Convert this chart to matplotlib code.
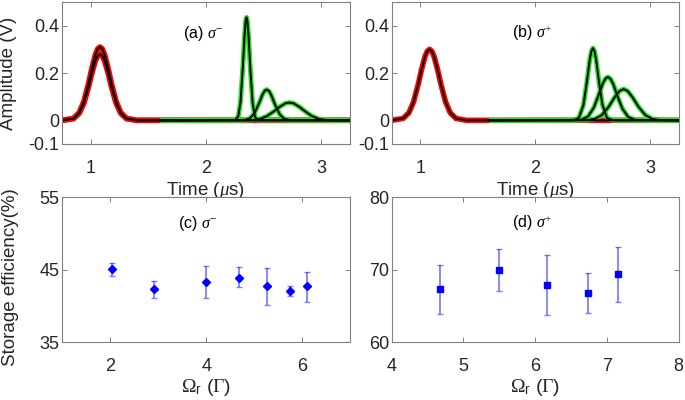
import matplotlib.pyplot as plt
import numpy as np

plt.rcParams["font.family"] = ["Liberation Sans", "DejaVu Sans"]
plt.rcParams["mathtext.fontset"] = "custom"
plt.rcParams["mathtext.rm"] = "Liberation Serif"
plt.rcParams["mathtext.it"] = "Liberation Serif:italic"
plt.rcParams["mathtext.sf"] = "Liberation Sans"
plt.rcParams["mathtext.fallback"] = "stix"
plt.rcParams["axes.unicode_minus"] = False

# input pulses (red)
t_in = [0.75, 0.85, 0.90, 0.94, 0.98, 1.01, 1.04, 1.06, 1.08,
        1.10, 1.12, 1.15, 1.18, 1.22, 1.26, 1.31, 1.40, 3.25]
in_a_hi = [0.0, 0.008, 0.033, 0.080, 0.155, 0.221, 0.278, 0.302, 0.310,
           0.302, 0.278, 0.221, 0.155, 0.080, 0.033, 0.008, 0.0, 0.0]
in_a_lo = [0.0, 0.007, 0.030, 0.072, 0.140, 0.200, 0.251, 0.273, 0.280,
           0.273, 0.251, 0.200, 0.140, 0.072, 0.030, 0.007, 0.0, 0.0]
in_b = [0.0, 0.008, 0.032, 0.077, 0.150, 0.214, 0.269, 0.292, 0.300,
        0.292, 0.269, 0.214, 0.150, 0.077, 0.032, 0.008, 0.0, 0.0]

# retrieved pulses (green), sigma-
t_a1 = [1.60, 2.25, 2.28, 2.30, 2.32, 2.335, 2.345, 2.352, 2.36,
        2.37, 2.385, 2.405, 2.425, 2.45, 3.25]
out_a1 = [0.0, 0.001, 0.016, 0.078, 0.226, 0.362, 0.422, 0.435, 0.418,
          0.354, 0.217, 0.073, 0.015, 0.001, 0.0]
t_a2 = [1.60, 2.33, 2.38, 2.42, 2.46, 2.49, 2.51, 2.528, 2.55,
        2.57, 2.60, 2.64, 2.68, 2.73, 3.25]
out_a2 = [0.0, 0.001, 0.008, 0.029, 0.071, 0.108, 0.125, 0.130, 0.122,
          0.103, 0.066, 0.025, 0.006, 0.001, 0.0]
t_a3 = [1.60, 2.40, 2.47, 2.53, 2.59, 2.64, 2.69, 2.725, 2.76,
        2.81, 2.86, 2.92, 2.98, 3.05, 3.25]
out_a3 = [0.0, 0.001, 0.006, 0.018, 0.038, 0.057, 0.072, 0.075, 0.072,
          0.057, 0.038, 0.018, 0.006, 0.001, 0.0]

# retrieved pulses (green), sigma+
t_b1 = [1.60, 2.33, 2.38, 2.42, 2.45, 2.475, 2.49, 2.503, 2.515,
        2.53, 2.555, 2.585, 2.625, 2.68, 3.25]
out_b1 = [0.0, 0.0, 0.010, 0.064, 0.162, 0.255, 0.293, 0.305, 0.295,
          0.259, 0.165, 0.067, 0.010, 0.0, 0.0]
t_b2 = [1.60, 2.40, 2.46, 2.51, 2.55, 2.59, 2.615, 2.633, 2.655,
        2.68, 2.72, 2.76, 2.81, 2.87, 3.25]
out_b2 = [0.0, 0.002, 0.016, 0.053, 0.104, 0.157, 0.178, 0.183, 0.176,
          0.153, 0.098, 0.049, 0.014, 0.002, 0.0]
t_b3 = [1.60, 2.45, 2.52, 2.58, 2.64, 2.69, 2.735, 2.77, 2.805,
        2.85, 2.90, 2.96, 3.02, 3.09, 3.25]
out_b3 = [0.0, 0.001, 0.006, 0.022, 0.057, 0.096, 0.124, 0.132, 0.124,
          0.096, 0.057, 0.022, 0.006, 0.001, 0.0]

# storage efficiency
rabi_c = [2.03, 2.90, 4.00, 4.69, 5.26, 5.74, 6.10]
eff_c = [45.1, 42.3, 43.3, 43.9, 42.7, 42.1, 42.8]
eff_c_low = [44.1, 41.1, 41.1, 42.6, 40.1, 41.4, 40.6]
eff_c_high = [46.0, 43.5, 45.5, 45.4, 45.2, 42.7, 44.7]

rabi_d = [4.68, 5.50, 6.17, 6.74, 7.15]
eff_d = [67.4, 70.0, 67.9, 66.8, 69.4]
eff_d_low = [63.9, 67.1, 63.7, 64.1, 65.6]
eff_d_high = [70.7, 72.8, 72.0, 69.5, 73.1]

red = "#ff0000"
green = "#1ee61e"
frame = "#808080"
txt = "#262626"

fig = plt.figure(figsize=(6.85, 4.00), dpi=100)
ax_a = fig.add_axes([0.0905, 0.64, 0.4204, 0.355])
ax_b = fig.add_axes([0.5718, 0.64, 0.419, 0.355])
ax_c = fig.add_axes([0.0912, 0.1443, 0.4197, 0.3625])
ax_d = fig.add_axes([0.5718, 0.1443, 0.419, 0.3625])

for ax in (ax_a, ax_b, ax_c, ax_d):
    for s in ax.spines.values():
        s.set_color(frame)
        s.set_linewidth(0.8)
    ax.tick_params(direction="in", top=True, right=True, length=3.5,
                   width=0.7, color=frame, labelcolor=txt, labelsize=13)
    ax.tick_params(axis="x", pad=11.5)
    ax.tick_params(axis="y", pad=2)

# top row: pulses
ax_a.plot(t_in, in_a_hi, color=red, lw=4, solid_capstyle="butt")
ax_a.plot(t_in, in_a_lo, color=red, lw=4, solid_capstyle="butt")
for t, v in ((t_a1, out_a1), (t_a2, out_a2), (t_a3, out_a3)):
    ax_a.plot(t, v, color=green, lw=3.5, solid_capstyle="butt")
ax_a.plot(t_in, in_a_hi, color="black", lw=1.4)
ax_a.plot(t_in, in_a_lo, color="black", lw=1.4)
for t, v in ((t_a1, out_a1), (t_a2, out_a2), (t_a3, out_a3)):
    ax_a.plot(t, v, color="black", lw=1.4)

ax_b.plot(t_in, in_b, color=red, lw=4, solid_capstyle="butt")
for t, v in ((t_b1, out_b1), (t_b2, out_b2), (t_b3, out_b3)):
    ax_b.plot(t, v, color=green, lw=3.5, solid_capstyle="butt")
ax_b.plot(t_in, in_b, color="black", lw=1.4)
for t, v in ((t_b1, out_b1), (t_b2, out_b2), (t_b3, out_b3)):
    ax_b.plot(t, v, color="black", lw=1.4)

for ax in (ax_a, ax_b):
    ax.set_xlim(0.75, 3.25)
    ax.set_ylim(-0.1, 0.5)
    ax.set_xticks([1, 2, 3])
    ax.set_yticks([-0.1, 0, 0.2, 0.4])
    ax.set_yticklabels(["-0.1", "0", "0.2", "0.4"])
    ax.set_xlabel(r"Time ($\mu$s)", fontsize=13.5, color=txt, labelpad=2)

ax_a.text(0.49, 0.78, r"(a) $\sigma^{-}$", transform=ax_a.transAxes,
          ha="center", va="center", fontsize=11.5, color="black")
ax_b.text(0.49, 0.78, r"(b) $\sigma^{+}$", transform=ax_b.transAxes,
          ha="center", va="center", fontsize=11.5, color="black")

# bottom row: efficiency
eff_c = np.array(eff_c)
eff_d = np.array(eff_d)
ax_c.errorbar(rabi_c, eff_c,
              yerr=[eff_c - np.array(eff_c_low), np.array(eff_c_high) - eff_c],
              fmt="D", color="blue", ms=4, ecolor=(0, 0, 1, 0.5),
              elinewidth=1.3, capsize=2, capthick=1)
ax_d.errorbar(rabi_d, eff_d,
              yerr=[eff_d - np.array(eff_d_low), np.array(eff_d_high) - eff_d],
              fmt="s", color="blue", ms=4, ecolor=(0, 0, 1, 0.5),
              elinewidth=1.3, capsize=2, capthick=1)

ax_c.set_xlim(1, 7)
ax_c.set_ylim(35, 55)
ax_c.set_xticks([2, 4, 6])
ax_c.set_yticks([35, 45, 55])
ax_d.set_xlim(4, 8)
ax_d.set_ylim(60, 80)
ax_d.set_xticks([4, 5, 6, 7, 8])
ax_d.set_yticks([60, 70, 80])
for ax in (ax_c, ax_d):
    ax.set_xlabel(r"$\Omega_{\mathsf{r}}$ ($\Gamma$)", fontsize=14,
                  color=txt, labelpad=1)

ax_c.text(0.47, 0.82, r"(c) $\sigma^{-}$", transform=ax_c.transAxes,
          ha="center", va="center", fontsize=11.5, color="black")
ax_d.text(0.49, 0.82, r"(d) $\sigma^{+}$", transform=ax_d.transAxes,
          ha="center", va="center", fontsize=11.5, color="black")

fig.text(9 / 685, 1 - 73 / 400, "Amplitude (V)", rotation=90,
         ha="center", va="center", fontsize=13.5, color=txt)
fig.text(10.5 / 685, 1 - 277 / 400, "Storage efficiency(%)", rotation=90,
         ha="center", va="center", fontsize=13.5, color=txt)

fig.savefig("out.png", dpi=100)
